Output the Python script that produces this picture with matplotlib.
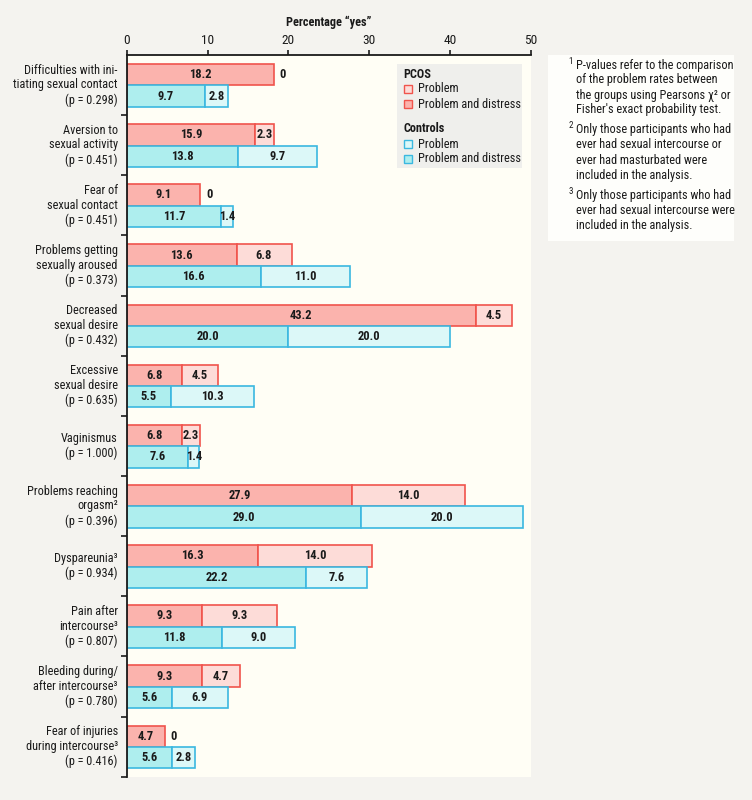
import numpy as np
import matplotlib.pyplot as plt
from matplotlib.patches import Rectangle

plt.rcParams['font.family'] = ['Roboto Condensed', 'DejaVu Sans']

# ── data ─────────────────────────────────────────────────────────────────────
labels = [
    "Difficulties with ini-\ntiating sexual contact\n(p = 0.298)",
    "Aversion to\nsexual activity\n(p = 0.451)",
    "Fear of\nsexual contact\n(p = 0.451)",
    "Problems getting\nsexually aroused\n(p = 0.373)",
    "Decreased\nsexual desire\n(p = 0.432)",
    "Excessive\nsexual desire\n(p = 0.635)",
    "Vaginismus\n(p = 1.000)",
    "Problems reaching\norgasm²\n(p = 0.396)",
    "Dyspareunia³\n(p = 0.934)",
    "Pain after\nintercourse³\n(p = 0.807)",
    "Bleeding during/\nafter intercourse³\n(p = 0.780)",
    "Fear of injuries\nduring intercourse³\n(p = 0.416)",
]
pcos_distress = [18.2, 15.9, 9.1, 13.6, 43.2, 6.8, 6.8, 27.9, 16.3, 9.3, 9.3, 4.7]
pcos_problem = [0, 2.3, 0, 6.8, 4.5, 4.5, 2.3, 14.0, 14.0, 9.3, 4.7, 0]
ctrl_distress = [9.7, 13.8, 11.7, 16.6, 20.0, 5.5, 7.6, 29.0, 22.2, 11.8, 5.6, 5.6]
ctrl_problem = [2.8, 9.7, 1.4, 11.0, 20.0, 10.3, 1.4, 20.0, 7.6, 9.0, 6.9, 2.8]
xticks = [0, 10, 20, 30, 40, 50]

footnotes = [
    ("1", "P-values refer to the comparison\nof the problem rates between\nthe groups using Pearsons χ² or\nFisher's exact probability test."),
    ("2", "Only those participants who had\never had sexual intercourse or\never had masturbated were\nincluded in the analysis."),
    ("3", "Only those participants who had\never had sexual intercourse were\nincluded in the analysis."),
]

# ── style ────────────────────────────────────────────────────────────────────
BG = "#f4f3ef"
CREAM = "#fffef5"
PCOS_EDGE, PCOS_DARK, PCOS_LIGHT = "#f0544c", "#fbb3ad", "#fddcd8"
CTRL_EDGE, CTRL_DARK, CTRL_LIGHT = "#3bb8e0", "#aeeeee", "#dcf8f8"
TXT = "#1a1a1a"
FS = 8.8

W, H = 752, 800
fig = plt.figure(figsize=(W / 100, H / 100), dpi=100, facecolor=BG)

def fx(x):
    return x / W

def fy(y):
    return 1 - y / H

ax = fig.add_axes([fx(126.7), fy(776.7), fx(530.7) - fx(126.7), fy(55) - fy(776.7)])
ax.set_facecolor(CREAM)

n = len(labels)
y = np.arange(n)
h = 0.355
yp = y + 0.15 + h / 2
yc = y + 0.15 + h + h / 2

def draw(ypos, dist, prob, edge, dark, light):
    dist = np.array(dist)
    prob = np.array(prob)
    ax.barh(ypos, dist, height=h, color=dark, edgecolor=edge, linewidth=1.2)
    mask = prob > 0
    ax.barh(ypos[mask], prob[mask], left=dist[mask], height=h, color=light,
            edgecolor=edge, linewidth=1.2)
    for yy, d, p in zip(ypos, dist, prob):
        ax.text(d / 2, yy, f"{d:.1f}", ha="center", va="center",
                fontsize=FS + 0.2, fontweight="bold", color=TXT)
        if p > 0:
            ax.text(d + p / 2, yy, f"{p:.1f}", ha="center", va="center",
                    fontsize=FS + 0.2, fontweight="bold", color=TXT)
        else:
            ax.text(d + 0.75, yy, "0", ha="left", va="center",
                    fontsize=FS + 0.2, fontweight="bold", color=TXT)

draw(yp, pcos_distress, pcos_problem, PCOS_EDGE, PCOS_DARK, PCOS_LIGHT)
draw(yc, ctrl_distress, ctrl_problem, CTRL_EDGE, CTRL_DARK, CTRL_LIGHT)

ax.set_xlim(0, 50)
ax.set_ylim(n, 0)
ax.xaxis.tick_top()
ax.set_xticks(xticks)
ax.set_xticklabels([str(t) for t in xticks], fontsize=FS + 0.8, color=TXT)
ax.tick_params(axis="x", direction="out", length=3.5, width=1.2, pad=2, colors=TXT)
ax.set_yticks(np.arange(1, n + 1))
ax.set_yticklabels([])
ax.tick_params(axis="y", direction="out", length=4.5, width=1.2, colors=TXT)
for s in ["right", "bottom"]:
    ax.spines[s].set_visible(False)
for s in ["top", "left"]:
    ax.spines[s].set_linewidth(1.3)
    ax.spines[s].set_color(TXT)

ax.set_xlabel("Percentage “yes”", fontsize=FS, fontweight="bold", color=TXT, labelpad=6)
ax.xaxis.set_label_position("top")

for yy, lab in zip(y + 0.5, labels):
    ax.text(-1.1, yy, lab, ha="right", va="center", fontsize=FS, color=TXT,
            linespacing=1.18)

# ── legend (drawn by hand) ───────────────────────────────────────────────────
fig.patches.append(Rectangle((fx(397), fy(168)), fx(522) - fx(397), fy(64) - fy(168),
                             transform=fig.transFigure, facecolor="#efefec",
                             edgecolor="none", zorder=3))
entries = [
    (74, "PCOS", None, None, True),
    (89, "Problem", PCOS_LIGHT, PCOS_EDGE, False),
    (104, "Problem and distress", PCOS_DARK, PCOS_EDGE, False),
    (129, "Controls", None, None, True),
    (144, "Problem", CTRL_LIGHT, CTRL_EDGE, False),
    (159, "Problem and distress", CTRL_DARK, CTRL_EDGE, False),
]
for yy, txt, fc, ec, bold in entries:
    if bold:
        fig.text(fx(403), fy(yy), txt, ha="left", va="center", fontsize=FS,
                 fontweight="bold", color=TXT, zorder=4)
    else:
        fig.patches.append(Rectangle((fx(404), fy(yy + 4)), fx(8), 8 / H,
                                     transform=fig.transFigure, facecolor=fc,
                                     edgecolor=ec, linewidth=1.0, zorder=4))
        fig.text(fx(418), fy(yy), txt, ha="left", va="center", fontsize=FS,
                 color=TXT, zorder=4)

# ── footnotes ────────────────────────────────────────────────────────────────
fig.patches.append(Rectangle((fx(548), fy(241)), fx(734) - fx(548), fy(55) - fy(241),
                             transform=fig.transFigure, facecolor="#fefefb",
                             edgecolor="none", zorder=1))
note_y = [66, 131, 196]
for (num, txt), yy in zip(footnotes, note_y):
    fig.text(fx(573), fy(yy - 5), num, ha="right", va="center", fontsize=6.5,
             color=TXT, zorder=2)
    fig.text(fx(576), fy(yy - 7.5), txt, ha="left", va="top", fontsize=FS,
             color=TXT, linespacing=1.2, zorder=2)

fig.savefig("out.png", dpi=100, facecolor=BG)
